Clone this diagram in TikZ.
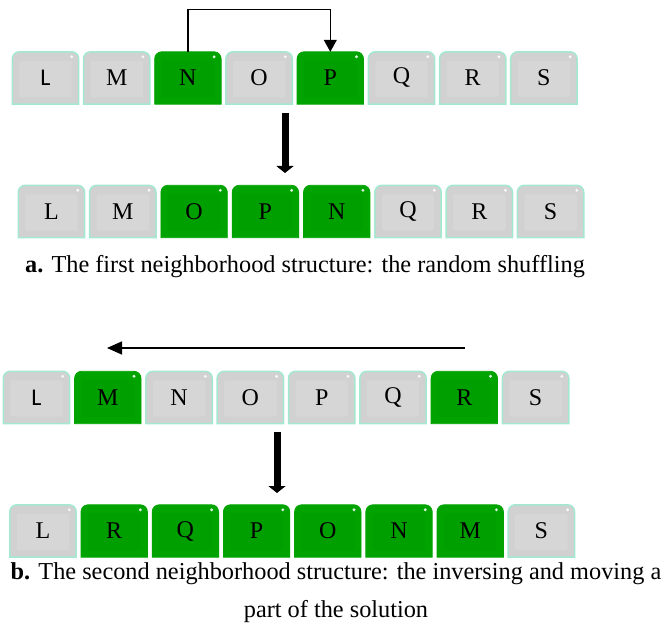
\documentclass[tikz,border=0pt]{standalone}
\usepackage{fontspec}
\setmainfont{Liberation Serif}
\newfontfamily\capsans{Carlito}
\usetikzlibrary{arrows.meta,backgrounds}

\definecolor{keygray}{HTML}{D1D1D1}
\definecolor{keygrayin}{HTML}{D6D6D6}
\definecolor{keyedge}{HTML}{A3E9CF}
\definecolor{keygreen}{HTML}{00A300}
\definecolor{keygreenin}{HTML}{009F00}

\tikzset{
  keytext/.style={inner sep=0pt, minimum width=66pt, minimum height=52pt,
    font=\fontsize{24}{28}\selectfont},
  graykey/.style={fill=keygray, draw=keyedge, line width=1.5pt},
  greenkey/.style={fill=keygreen, draw=keygreen, line width=0.8pt},
  graykeyin/.style={fill=keygrayin},
  greenkeyin/.style={fill=keygreenin},
  swapline/.style={line width=1.2pt, -{Triangle[length=12pt,width=13pt]}},
  movearrow/.style={line width=7pt, -{Triangle[length=7pt,width=17pt]}},
  sweepline/.style={line width=1.4pt, -{Triangle[length=15pt,width=13pt]}},
  captext/.style={inner sep=0pt, font=\fontsize{24.3}{28}\selectfont},
}

% a keycap: name, x, y, label, kind (gray or green)
\newcommand\keycap[5]{%
  \node[keytext] (#1) at (#2,#3) {#4};
  \begin{pgfonlayer}{background}
    \draw[#5key] (#1.south west) -- ([yshift=-7pt]#1.north west)
      arc[start angle=180, end angle=90, radius=7pt]
      -- ([xshift=-7pt]#1.north east)
      arc[start angle=90, end angle=0, radius=7pt]
      -- (#1.south east) -- cycle;
    \fill[#5keyin, rounded corners=2pt] ([xshift=7pt,yshift=-9pt]#1.north west)
      rectangle ([xshift=-7pt,yshift=7pt]#1.south east);
    \fill[white, opacity=0.85] ([xshift=-7pt,yshift=-5pt]#1.north east) circle (1.6pt);
  \end{pgfonlayer}
}

\begin{document}
\begin{tikzpicture}[x=1pt, y=-1pt]
\useasboundingbox (0,0) rectangle (663,628);

% first row: before the shuffle
\foreach \lab/\kind [count=\i from 0] in
  {{\capsans L}/gray, M/gray, N/green, O/gray, P/green, Q/gray, R/gray, S/gray}
  {\keycap{r1-\i}{45.5+71.2*\i}{78}{\lab}{\kind}}

% second row: after the shuffle
\foreach \lab/\kind [count=\i from 0] in
  {L/gray, M/gray, O/green, P/green, N/green, Q/gray, R/gray, S/gray}
  {\keycap{r2-\i}{51.5+71.3*\i}{211.5}{\lab}{\kind}}

% third row: before the inversion
\foreach \lab/\kind [count=\i from 0] in
  {{\capsans L}/gray, M/green, N/gray, O/gray, P/gray, Q/gray, R/green, S/gray}
  {\keycap{r3-\i}{36.5+71.3*\i}{397.5}{\lab}{\kind}}

% fourth row: after the inversion
\foreach \lab/\kind [count=\i from 0] in
  {L/gray, R/green, Q/green, P/green, O/green, N/green, M/green, S/gray}
  {\keycap{r4-\i}{43+71.2*\i}{531}{\lab}{\kind}}

% N is moved to the place of P
\draw[swapline] (r1-2.north) -- ++(0,-42) -| (r1-4.north);

% step arrows between the rows
\coordinate (stepAtop) at (285,113);
\coordinate (stepAbot) at (285,173);
\draw[movearrow] (stepAtop) -- (stepAbot);
\coordinate (stepBtop) at (277,432);
\coordinate (stepBbot) at (277,493);
\draw[movearrow] (stepBtop) -- (stepBbot);

% direction of the inversion
\coordinate (sweepR) at (465,348);
\coordinate (sweepL) at (107,348);
\draw[sweepline] (sweepR) -- (sweepL);

% captions
\node[captext, anchor=base west] (capA) at (25,272)
  {\textbf{a.} The first neighborhood structure: the random shuffling};
\node[captext, anchor=base] (capB1) at (336,579)
  {\textbf{b.} The second neighborhood structure: the inversing and moving a};
\node[captext, anchor=base] (capB2) at (336,617) {part of the solution};
\end{tikzpicture}
\end{document}
